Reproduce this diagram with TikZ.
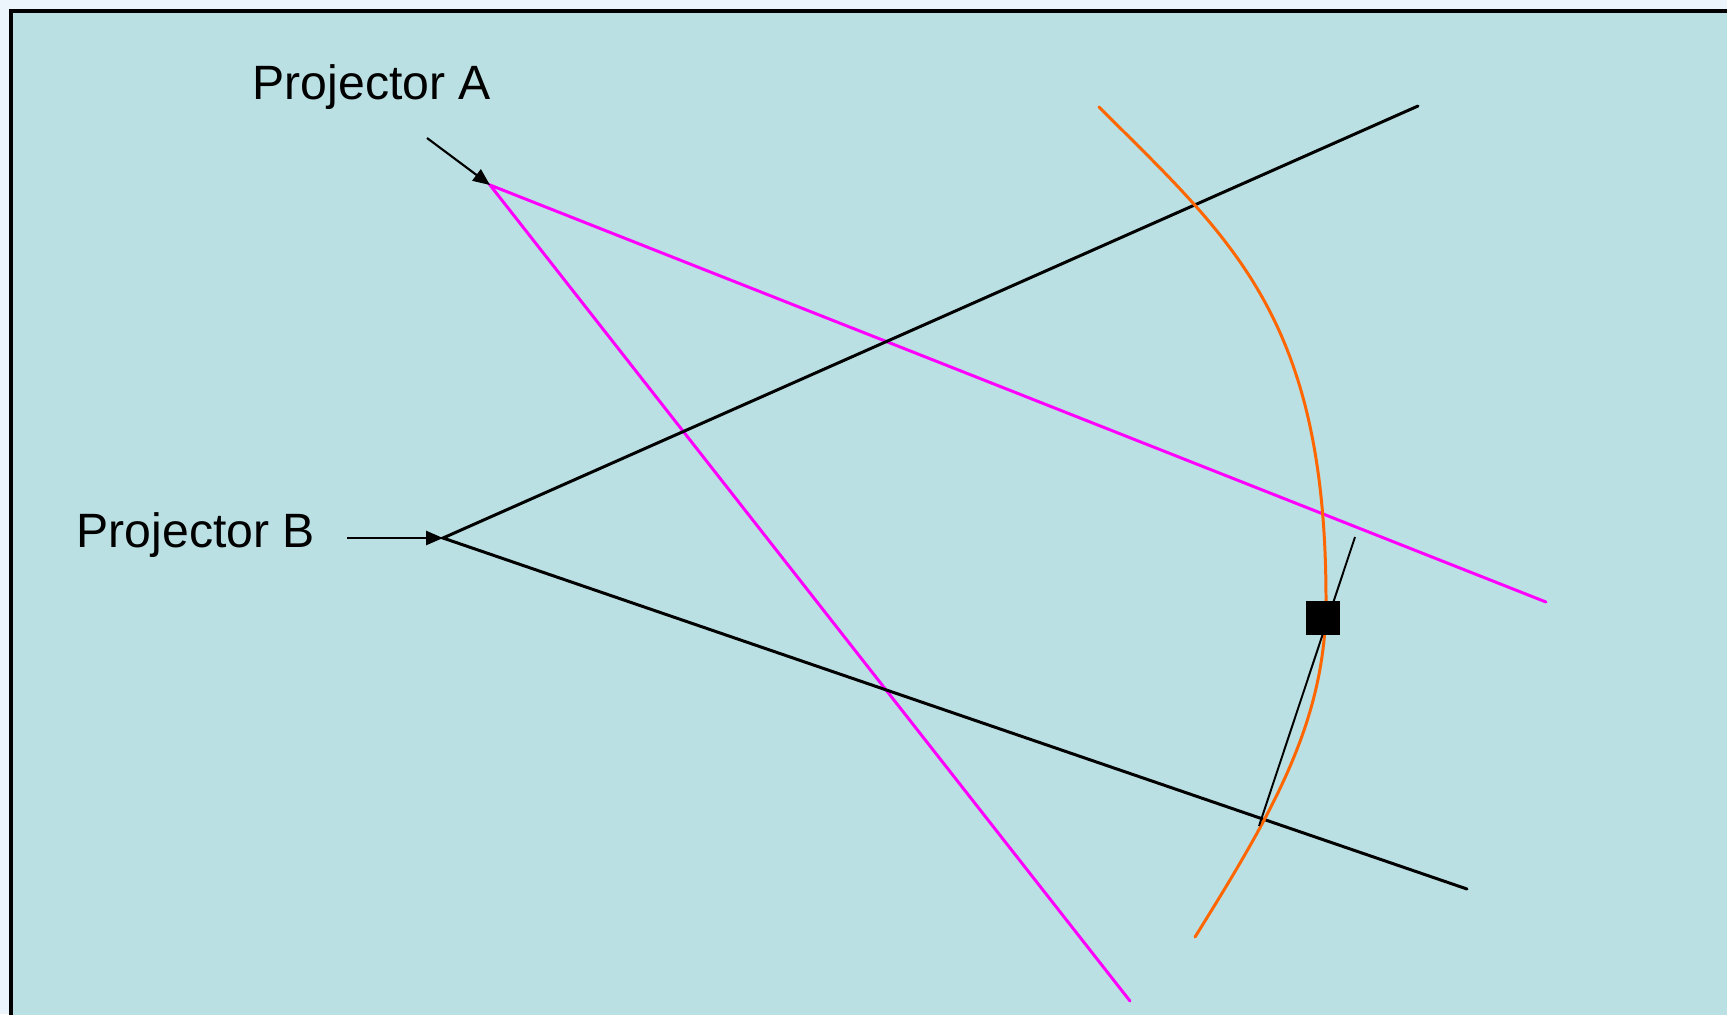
\documentclass[tikz,border=0pt]{standalone}
\usepackage{fontspec}
\setmainfont{Liberation Sans}
\usetikzlibrary{arrows.meta}
\definecolor{bgout}{HTML}{EBF5FB}
\definecolor{bgin}{HTML}{BAE0E3}
\definecolor{magline}{HTML}{FF00FF}
\definecolor{orline}{HTML}{FF6600}
\tikzset{
  lbl/.style={inner sep=0pt, anchor=base west, font=\fontsize{13.7}{16}\selectfont},
  ray/.style={line width=0.85pt, line cap=round},
  blackray/.style={ray, black},
  magray/.style={ray, magline},
  pointer/.style={line width=0.6pt, -{Triangle[length=4.8pt, width=4pt]}},
}
\begin{document}
\begin{tikzpicture}[x=0.01cm, y=-0.01cm]
\useasboundingbox (0,0) rectangle (1727,1014);
\fill[bgout] (0,0) rectangle (1727,1014);
\begin{scope}
\clip (0,0) rectangle (1727,1014);
\draw[fill=bgin, line width=0.9pt] (11,11) rectangle (1760,1040);
\end{scope}

% labels
\node[lbl] (la) at (252,99) {Projector A};
\node[lbl] (lb) at (76,547) {Projector B};

% key points
\coordinate (A) at (490,185);
\coordinate (B) at (443,538);
\coordinate (atail) at (427,138);
\coordinate (btail) at (347,538);
\coordinate (a1) at (1546,602);
\coordinate (a2) at (1130,1001);
\coordinate (b1) at (1418,106);
\coordinate (b2) at (1467,889);
\coordinate (t1) at (1355,537);
\coordinate (t2) at (1259,826);
\coordinate (c0) at (1099,107);
\coordinate (cm) at (1326,600);
\coordinate (c1) at (1195,937);

% projector rays
\draw[magray] (a1) -- (A) -- (a2);
\draw[blackray] (b1) -- (B) -- (b2);

% pointers
\draw[pointer] (atail) -- (A);
\draw[pointer] (btail) -- (B);

% surface curve
\draw[orline, line width=0.85pt, line cap=round]
  (c0) .. controls (1231,239) and (1326,317) .. (cm)
       .. controls (1326,720) and (1274.5,809.5) .. (c1);

% thin line and square
\draw[line width=0.55pt] (t1) -- (t2);
\node[fill=black, minimum size=0.34cm, inner sep=0pt] (sq) at (1323,618) {};
\end{tikzpicture}
\end{document}
